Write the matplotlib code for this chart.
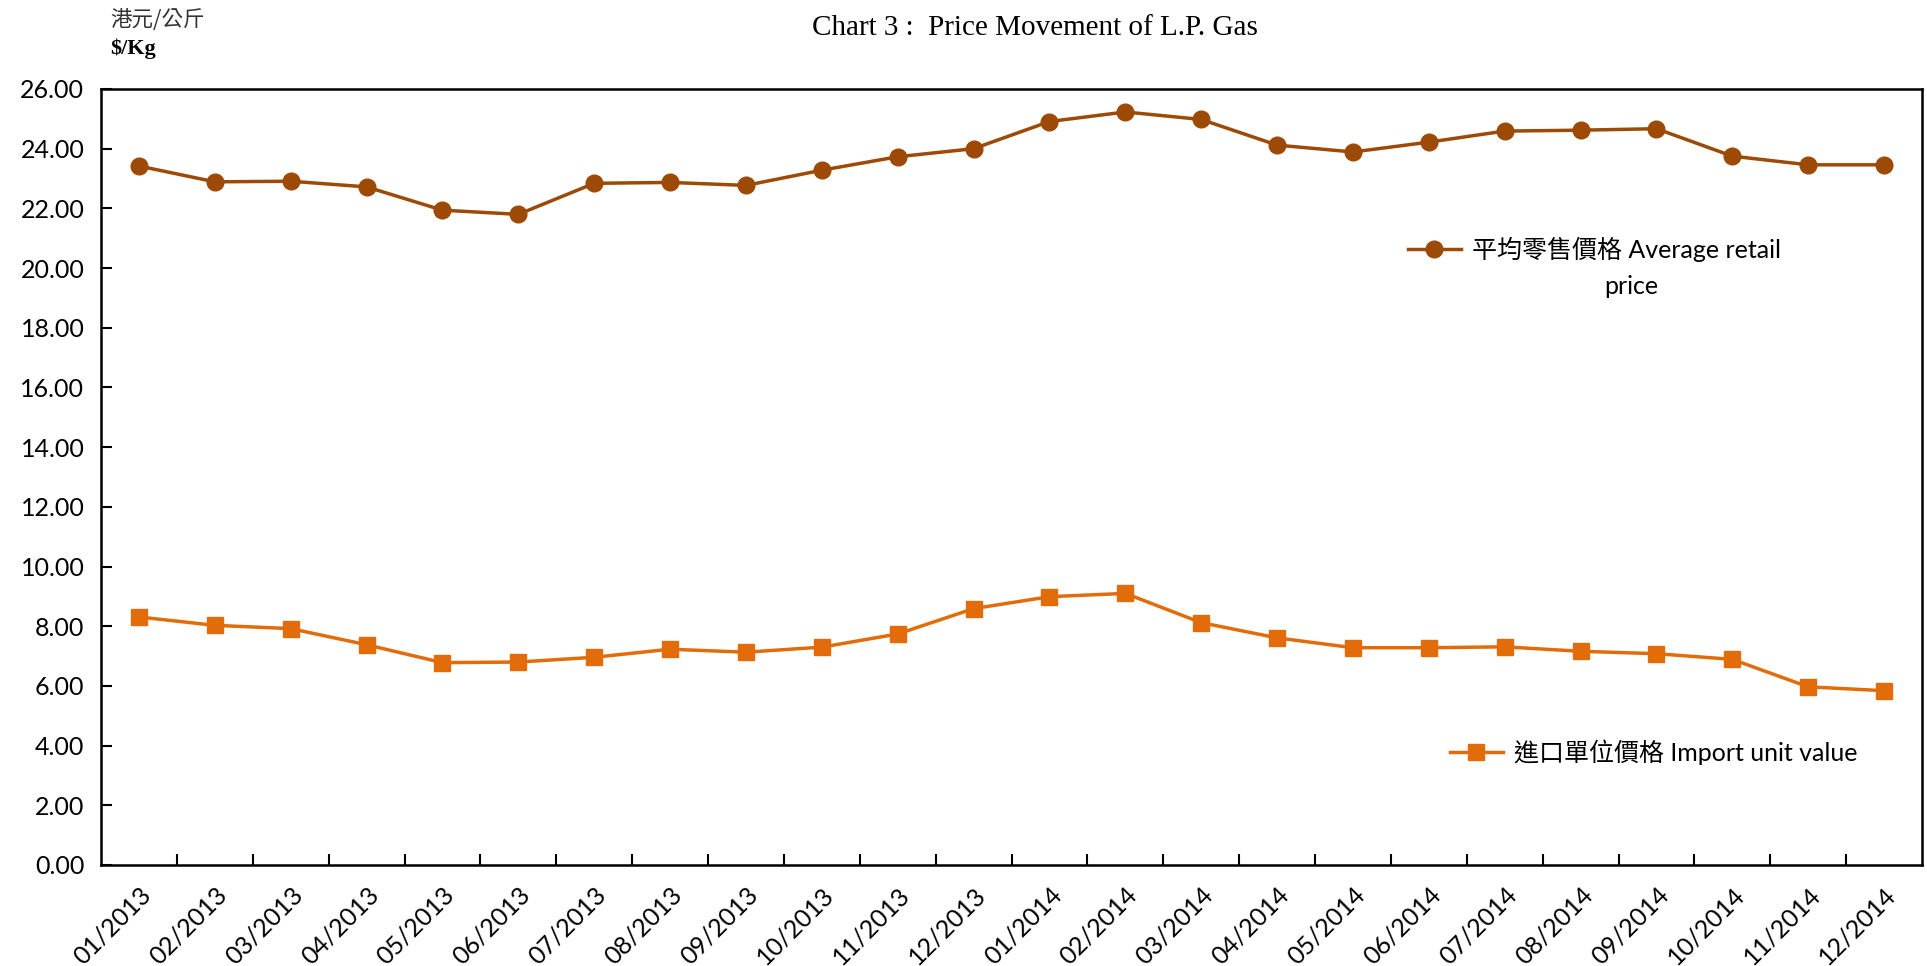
import matplotlib.pyplot as plt

# Fonts: Latin first, CJK fallback
plt.rcParams["font.family"] = ["Lato", "Noto Sans CJK TC", "DejaVu Sans"]

months = ["01/2013", "02/2013", "03/2013", "04/2013", "05/2013", "06/2013",
          "07/2013", "08/2013", "09/2013", "10/2013", "11/2013", "12/2013",
          "01/2014", "02/2014", "03/2014", "04/2014", "05/2014", "06/2014",
          "07/2014", "08/2014", "09/2014", "10/2014", "11/2014", "12/2014"]

retail_price = [23.42, 22.89, 22.91, 22.72, 21.94, 21.80, 22.84, 22.87, 22.77, 23.28, 23.73, 24.00,
                24.91, 25.23, 24.98, 24.12, 23.89, 24.22, 24.59, 24.62, 24.67, 23.75, 23.46, 23.46]

import_value = [8.31, 8.03, 7.92, 7.38, 6.78, 6.80, 6.96, 7.23, 7.13, 7.30, 7.74, 8.59,
                8.99, 9.10, 8.12, 7.61, 7.28, 7.28, 7.31, 7.16, 7.08, 6.89, 5.97, 5.84]

y_ticks = [0, 2, 4, 6, 8, 10, 12, 14, 16, 18, 20, 22, 24, 26]

retail_label = "平均零售價格 Average retail"
import_label = "進口單位價格 Import unit value"

W, H = 1927, 966
fig = plt.figure(figsize=(W / 100, H / 100), dpi=100)
ax = fig.add_axes([101 / W, 1 - 865 / H, (1922 - 101) / W, (865 - 89) / H])

x = list(range(len(months)))
l1, = ax.plot(x, retail_price, color="#9C4A06", lw=2.5, marker="o", ms=12,
              markeredgecolor="#9C4A06", label=retail_label)
l2, = ax.plot(x, import_value, color="#E36C0A", lw=2.5, marker="s", ms=11,
              markeredgecolor="#E36C0A", label=import_label)

ax.set_xlim(-0.5, len(months) - 0.5)
ax.set_ylim(0, 26)
ax.set_yticks(y_ticks)
ax.set_yticklabels(["{:.2f}".format(v) for v in y_ticks], fontsize=18)

# tick marks between categories, labels at the centres
ax.set_xticks([i + 0.5 for i in x[:-1]])
ax.set_xticklabels([])
ax.set_xticks(x, minor=True)
ax.set_xticklabels(months, minor=True, rotation=45, ha="right", va="top",
                   rotation_mode="anchor", fontsize=18)
ax.tick_params(axis="x", which="major", direction="in", length=8, width=1.5)
ax.tick_params(axis="x", which="minor", length=0, pad=13)
ax.tick_params(axis="y", direction="in", length=8, width=1.5, pad=12)

for sp in ax.spines.values():
    sp.set_linewidth(1.8)

# titles
fig.text(1035 / W, 1 - 28 / H, "Chart 3 :  Price Movement of L.P. Gas",
         ha="center", va="center", fontsize=21, family="Liberation Serif")
fig.text(110 / W, 1 - 20 / H, "港元/公斤", ha="left", va="center",
         fontsize=15.5, family=["Noto Sans CJK TC"], color="#333333")
fig.text(110 / W, 1 - 49 / H, "$/Kg", ha="left", va="center",
         fontsize=16, family="Liberation Serif", fontweight="bold")

# legends
fig.legend(handles=[l1], loc="center left", bbox_to_anchor=(1408 / W, 1 - 249 / H),
           frameon=False, fontsize=18, handlelength=2.1, handletextpad=0.48,
           borderpad=0, borderaxespad=0)
fig.text(1631 / W, 1 - 286 / H, "price", ha="center", va="center", fontsize=18)
fig.legend(handles=[l2], loc="center left", bbox_to_anchor=(1450 / W, 1 - 752 / H),
           frameon=False, fontsize=18, handlelength=2.1, handletextpad=0.48,
           borderpad=0, borderaxespad=0)

fig.savefig("out.png", dpi=100)
